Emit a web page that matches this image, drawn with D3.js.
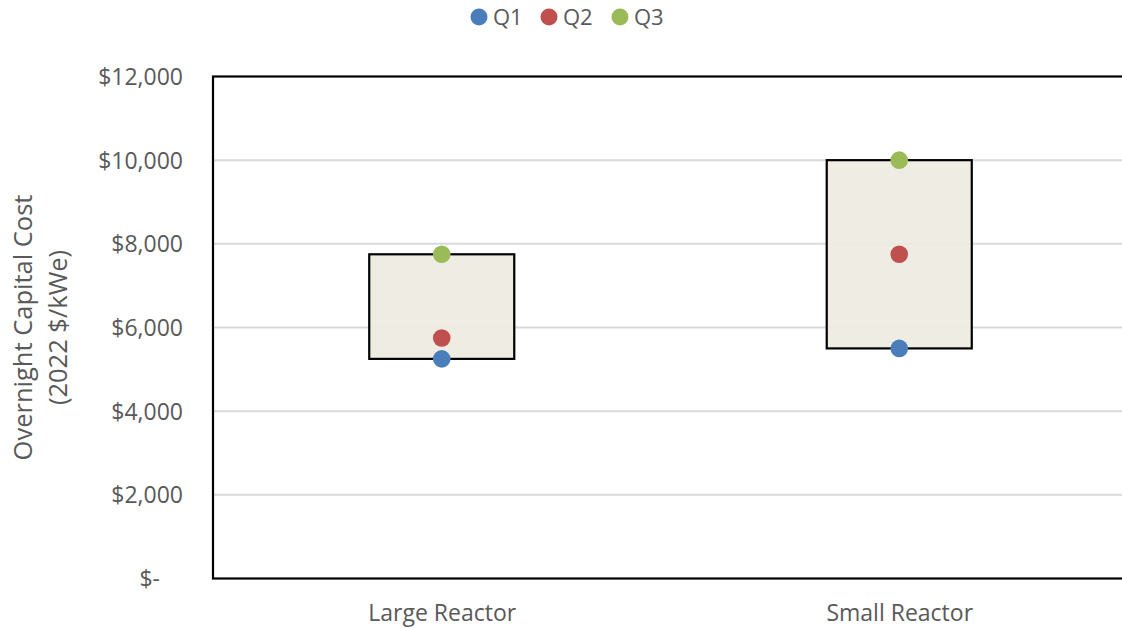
<!DOCTYPE html>
<html><head><meta charset="utf-8">
<script src="https://cdn.jsdelivr.net/npm/d3@7"></script>
<style>body{margin:0;background:#fff;} svg{display:block;} text{font-family:"Open Sans","Noto Sans",sans-serif;fill:#595959;}</style>
</head><body>
<svg id="chart" width="1122" height="628"></svg>
<script>
const categories = ["Large Reactor", "Small Reactor"];
const q1 = [5250, 5500];
const q2 = [5750, 7750];
const q3 = [7750, 10000];
const yTicks = [0, 2000, 4000, 6000, 8000, 10000, 12000];
const seriesNames = ["Q1", "Q2", "Q3"];
const seriesColors = ["#4a7ebb", "#c0504d", "#9bbb59"];

const svg = d3.select("#chart");
const L = 213, R = 1128, T = 76.5, B = 578.5;
const x = d3.scalePoint().domain(categories).range([L, R]).padding(0.5);
const y = d3.scaleLinear().domain([0, 12000]).range([B, T]);
const boxW = x.step() * 0.317;

// gridlines
svg.append("g").selectAll("line").data(yTicks.filter(d => d > 0 && d < 12000)).join("line")
  .attr("x1", L).attr("x2", R).attr("y1", d => y(d)).attr("y2", d => y(d))
  .attr("stroke", "#d9d9d9").attr("stroke-width", 2);

// boxes
svg.append("g").selectAll("rect").data(categories).join("rect")
  .attr("x", d => x(d) - boxW / 2).attr("width", boxW)
  .attr("y", (d, i) => y(q3[i])).attr("height", (d, i) => y(q1[i]) - y(q3[i]))
  .attr("fill", "#eeece1").attr("fill-opacity", 0.93).attr("stroke", "#000").attr("stroke-width", 2.2);

// frame
svg.append("rect").attr("x", L).attr("y", T).attr("width", R - L).attr("height", B - T)
  .attr("fill", "none").attr("stroke", "#000").attr("stroke-width", 2.2);

// y axis
const yAxis = d3.axisLeft(y).tickValues(yTicks).tickSize(0).tickPadding(0)
  .tickFormat(d => d === 0 ? "$-" : "$" + d3.format(",")(d));
const ga = svg.append("g").attr("transform", `translate(${183},0)`).call(yAxis);
ga.select(".domain").remove();
ga.selectAll("text").style("font-size", "23px").attr("fill", "#595959")
  .attr("font-family", null).attr("dy", "0.35em")
  .attr("dx", d => d === 0 ? -23 : 0);

// x axis labels
const xAxis = d3.axisBottom(x).tickSize(0).tickPadding(0);
const gx = svg.append("g").attr("transform", `translate(0,${605})`).call(xAxis);
gx.select(".domain").remove();
gx.selectAll("text").style("font-size", "23px").attr("fill", "#595959").attr("font-family", null);

// y title
const yt = svg.append("text").attr("transform", `translate(0,${327.5}) rotate(-90)`)
  .attr("text-anchor", "middle").style("font-size", "25.5px");
yt.append("tspan").attr("x", 0).attr("y", 32).text("Overnight Capital Cost");
yt.append("tspan").attr("x", 0).attr("y", 67).text("(2022 $/kWe)");

// dots
const series = [q1, q2, q3];
series.forEach((vals, s) => {
  svg.append("g").selectAll("circle").data(categories).join("circle")
    .attr("cx", d => x(d)).attr("cy", (d, i) => y(vals[i])).attr("r", 8.8)
    .attr("fill", seriesColors[s]);
});

// legend
const legX = [479, 549, 620];
const lg = svg.append("g");
seriesNames.forEach((n, i) => {
  lg.append("circle").attr("cx", legX[i]).attr("cy", 17).attr("r", 8.5).attr("fill", seriesColors[i]);
  lg.append("text").attr("x", legX[i] + 14).attr("y", 17).attr("dy", "0.35em").style("font-size", "22px").text(n);
});
</script>
</body></html>
